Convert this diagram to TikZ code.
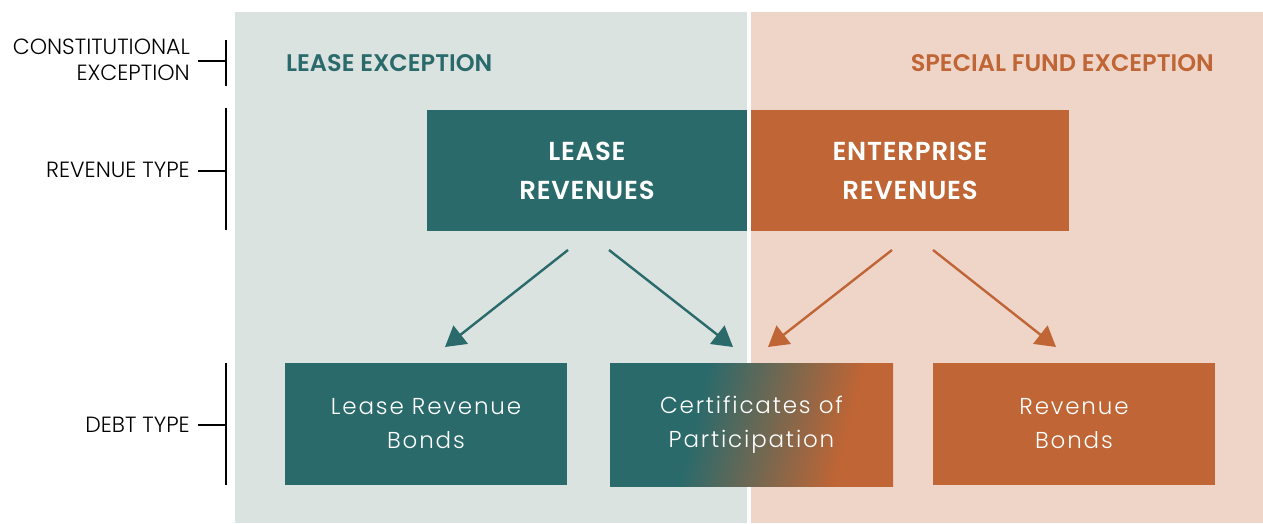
\documentclass[tikz,border=0pt]{standalone}
\usepackage{fontspec}
\setmainfont{Poppins}
\newfontfamily\lightsp{Poppins Light}[LetterSpace=8]
\newfontfamily\lightfont{Poppins Light}
\newfontfamily\boldsp{Poppins SemiBold}[LetterSpace=3]
\newfontfamily\semib{Poppins SemiBold}
\usetikzlibrary{arrows.meta}
\definecolor{tealD}{HTML}{2B6A6B}
\definecolor{orangeD}{HTML}{C06535}
\definecolor{tealL}{HTML}{DAE3E0}
\definecolor{orangeL}{HTML}{EFD5C8}
\pgfdeclarehorizontalshading{copshade}{100bp}{color(0bp)=(tealD); color(39bp)=(tealD); color(54bp)=(tealD!50!orangeD); color(69bp)=(orangeD); color(100bp)=(orangeD)}
\begin{document}
\begin{tikzpicture}[x=1pt,y=-1pt,
  revbox/.style={rectangle,inner sep=0pt,text=white,align=center,font=\boldsp\fontsize{26}{39}\selectfont},
  debtbox/.style={rectangle,inner sep=0pt,minimum width=282pt,minimum height=122pt,text=white,align=center,font=\lightsp\fontsize{23}{34}\selectfont},
  lbl/.style={anchor=east,align=right,inner sep=0pt,text=black,font=\lightfont\fontsize{22}{26}\selectfont},
  head/.style={inner sep=0pt,font=\semib\fontsize{24}{28}\selectfont},
  brk/.style={line width=1.3pt,black},
  arr/.style={line width=2.4pt,-{Triangle[length=20pt,width=23pt]}}
]
\useasboundingbox (0,0) rectangle (1263,523);
\fill[white] (0,0) rectangle (1263,523);
% panels
\fill[tealL] (235,12) rectangle (747,523);
\fill[orangeL] (751,12) rectangle (1263,523);
\node[head,text=tealD,anchor=west] (hl) at (286,63) {LEASE EXCEPTION};
\node[head,text=orangeD,anchor=east] (hr) at (1214,63) {SPECIAL FUND EXCEPTION};
% revenue boxes
\node[revbox,fill=tealD,minimum width=320pt,minimum height=121pt] (lease) at (587,170.5) {LEASE\\REVENUES};
\node[revbox,fill=orangeD,minimum width=318pt,minimum height=121pt] (ent) at (910,170.5) {ENTERPRISE\\REVENUES};
% debt boxes
\node[debtbox,fill=tealD] (lrb) at (426,424) {Lease Revenue\\Bonds};
\shade[shading=copshade,shading angle=-14] (610,363) rectangle (893,486);
\node[debtbox,minimum width=283pt,minimum height=123pt] (cop) at (751.5,424.5) {Certificates of\\Participation};
\node[debtbox,fill=orangeD] (rb) at (1074,424) {Revenue\\Bonds};
% arrows
\coordinate (s1) at (568,250); \coordinate (e1) at (445,347);
\coordinate (s2) at (609,250); \coordinate (e2) at (733,347);
\coordinate (s3) at (892,250); \coordinate (e3) at (768,347);
\coordinate (s4) at (933,250); \coordinate (e4) at (1056,347);
\draw[arr,tealD] (s1) -- (e1);
\draw[arr,tealD] (s2) -- (e2);
\draw[arr,orangeD] (s3) -- (e3);
\draw[arr,orangeD] (s4) -- (e4);
% left labels
\node[lbl] (l1) at (190,60) {CONSTITUTIONAL\\EXCEPTION};
\node[lbl] (l2) at (190,170) {REVENUE TYPE};
\node[lbl] (l3) at (190,425) {DEBT TYPE};
\coordinate (b1t) at (226,40); \coordinate (b1b) at (226,86); \coordinate (b1m) at (226,61); \coordinate (t1) at (198,61);
\coordinate (b2t) at (226,108); \coordinate (b2b) at (226,230); \coordinate (b2m) at (226,171); \coordinate (t2) at (198,171);
\coordinate (b3t) at (226,363); \coordinate (b3b) at (226,485); \coordinate (b3m) at (226,425); \coordinate (t3) at (198,425);
\draw[brk] (b1t) -- (b1b); \draw[brk] (t1) -- (b1m);
\draw[brk] (b2t) -- (b2b); \draw[brk] (t2) -- (b2m);
\draw[brk] (b3t) -- (b3b); \draw[brk] (t3) -- (b3m);
\end{tikzpicture}
\end{document}
